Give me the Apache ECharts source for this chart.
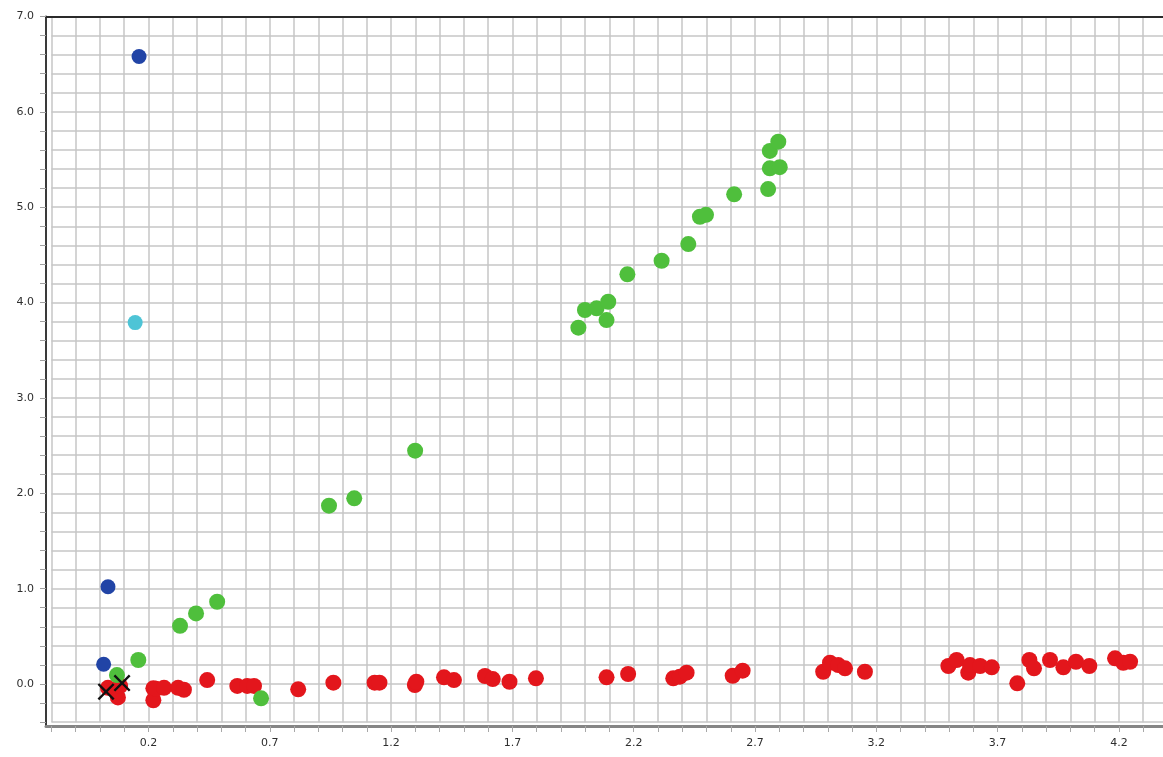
<!DOCTYPE html>
<html>
<head>
<meta charset="utf-8">
<script src="https://cdn.jsdelivr.net/npm/echarts@6/dist/echarts.min.js"></script>
<style>
  html, body { margin: 0; padding: 0; background: #ffffff; }
  #chart { width: 1163px; height: 757px; }
</style>
</head>
<body>
<div id="chart"></div>
<script>
// Measured points, [x, y]
const redPoints = [
  [0.033, -0.04], [0.074, -0.14], [0.083, -0.02],
  [0.220, -0.045], [0.220, -0.17], [0.231, -0.05], [0.264, -0.04], [0.322, -0.04], [0.346, -0.06],
  [0.442, 0.042], [0.566, -0.02], [0.607, -0.02], [0.635, -0.02], [0.817, -0.055],
  [0.962, 0.014], [1.132, 0.014], [1.152, 0.014], [1.298, -0.01], [1.304, 0.024],
  [1.418, 0.070], [1.459, 0.042], [1.587, 0.084], [1.619, 0.052], [1.688, 0.024], [1.797, 0.060],
  [2.088, 0.070], [2.177, 0.105], [2.363, 0.060], [2.390, 0.077], [2.418, 0.119],
  [2.608, 0.087], [2.649, 0.140],
  [2.981, 0.129], [3.009, 0.223], [3.043, 0.199], [3.071, 0.165], [3.153, 0.129],
  [3.497, 0.189], [3.531, 0.252], [3.579, 0.119], [3.586, 0.199], [3.628, 0.189], [3.676, 0.175],
  [3.781, 0.007], [3.831, 0.252], [3.850, 0.165], [3.916, 0.252], [3.971, 0.175],
  [4.023, 0.234], [4.078, 0.189], [4.184, 0.270], [4.218, 0.223], [4.246, 0.234]
];
const greenPoints = [
  [0.070, 0.094], [0.158, 0.252], [0.330, 0.610], [0.396, 0.741], [0.483, 0.863], [0.664, -0.150],
  [0.944, 1.870], [1.048, 1.947], [1.299, 2.447],
  [1.972, 3.737], [1.999, 3.922], [2.047, 3.940], [2.095, 4.009], [2.088, 3.817],
  [2.174, 4.296], [2.315, 4.439], [2.425, 4.614], [2.473, 4.900], [2.498, 4.920],
  [2.614, 5.135], [2.754, 5.190], [2.761, 5.408], [2.802, 5.420], [2.761, 5.590], [2.796, 5.687]
];
const bluePoints = [[0.161, 6.58], [0.033, 1.02], [0.015, 0.207]];
const cyanPoints = [[0.145, 3.79]];
const crossPoints = [[0.025, -0.08], [0.091, 0.01]];

// Tick labels
const xTickLabels = ['0.2', '0.7', '1.2', '1.7', '2.2', '2.7', '3.2', '3.7', '4.2'];
const yTickLabels = ['0.0', '1.0', '2.0', '3.0', '4.0', '5.0', '6.0', '7.0'];

const crossPath = 'path://M0,1L1,0L5,4L9,0L10,1L6,5L10,9L9,10L5,6L1,10L0,9L4,5Z';
const labelFont = { fontFamily: 'DejaVu Sans', fontSize: 11, color: '#2e2e2e' };
const gridLine = { show: true, lineStyle: { color: '#c6c6c6', width: 1.5 } };

const chart = echarts.init(document.getElementById('chart'), null, { renderer: 'canvas' });

chart.setOption({
  animation: false,
  backgroundColor: '#ffffff',
  grid: [
    // grid lines, ticks and labels (aligned to round values)
    { left: 51.46, top: 16.5, right: -28.7, bottom: 34.82, outerBoundsMode: 'none', containLabel: false },
    // data area with the axis frame
    { left: 46, top: 16.5, right: -28.7, bottom: 31, outerBoundsMode: 'none', containLabel: false }
  ],
  xAxis: [
    {
      type: 'value', gridIndex: 0, position: 'bottom', min: -0.2, max: 4.5, interval: 0.1, offset: 3.82,
      axisLine: { show: false, onZero: false },
      axisTick: { show: true, inside: false, length: 6, lineStyle: { color: '#a8a8a8', width: 1 } },
      axisLabel: {
        show: true, interval: 0, margin: 12, showMinLabel: true, showMaxLabel: true, ...labelFont,
        formatter: v => { const s = v.toFixed(1); return xTickLabels.includes(s) ? s : ''; }
      },
      splitLine: gridLine
    },
    {
      type: 'value', gridIndex: 1, position: 'bottom', min: -0.2225, max: 4.5,
      axisLine: { show: true, onZero: false, lineStyle: { color: '#858585', width: 3 } },
      axisTick: { show: false }, axisLabel: { show: false }, splitLine: { show: false }
    },
    {
      type: 'value', gridIndex: 1, position: 'top', min: -0.2225, max: 4.5,
      axisLine: { show: true, onZero: false, lineStyle: { color: '#2a2a2a', width: 2 } },
      axisTick: { show: false }, axisLabel: { show: false }, splitLine: { show: false }
    }
  ],
  yAxis: [
    {
      type: 'value', gridIndex: 0, position: 'left', min: -0.4, max: 7.0, interval: 0.2, offset: 5.46,
      axisLine: { show: false, onZero: false },
      axisTick: { show: true, inside: false, length: 6, lineStyle: { color: '#a0a0a0', width: 1 } },
      axisLabel: {
        show: true, interval: 0, margin: 12, showMinLabel: true, showMaxLabel: true, ...labelFont,
        formatter: v => { const s = v.toFixed(1); return yTickLabels.includes(s) ? s : ''; }
      },
      splitLine: gridLine
    },
    {
      type: 'value', gridIndex: 1, position: 'left', min: -0.44, max: 7.0,
      axisLine: { show: true, onZero: false, lineStyle: { color: '#3a3a3a', width: 2 } },
      axisTick: { show: false }, axisLabel: { show: false }, splitLine: { show: false }
    }
  ],
  series: [
    {
      name: 'red', type: 'scatter', xAxisIndex: 1, yAxisIndex: 1, z: 3,
      symbol: 'circle', symbolSize: 16, data: redPoints,
      itemStyle: { color: '#e3161c', opacity: 1 }
    },
    {
      name: 'green', type: 'scatter', xAxisIndex: 1, yAxisIndex: 1, z: 4,
      symbol: 'circle', symbolSize: 16, data: greenPoints,
      itemStyle: { color: '#4fbf3c', opacity: 1 }
    },
    {
      name: 'blue', type: 'scatter', xAxisIndex: 1, yAxisIndex: 1, z: 5,
      symbol: 'circle', symbolSize: 15, data: bluePoints,
      itemStyle: { color: '#2144a6', opacity: 1 }
    },
    {
      name: 'cyan', type: 'scatter', xAxisIndex: 1, yAxisIndex: 1, z: 5,
      symbol: 'circle', symbolSize: 15, data: cyanPoints,
      itemStyle: { color: '#4ec4d6', opacity: 1 }
    },
    {
      name: 'cross', type: 'scatter', xAxisIndex: 1, yAxisIndex: 1, z: 6,
      symbol: crossPath, symbolSize: 17, data: crossPoints,
      itemStyle: { color: '#111111', opacity: 1 }
    }
  ]
});
</script>
</body>
</html>
